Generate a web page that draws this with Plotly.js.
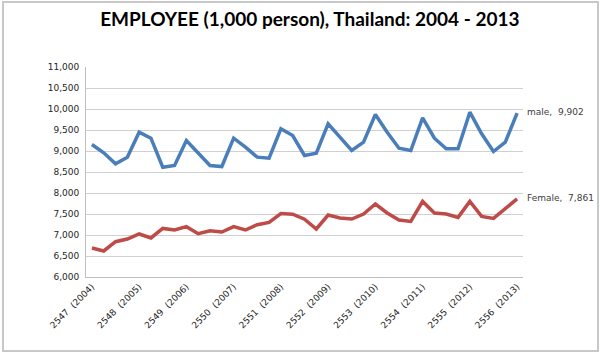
<!DOCTYPE html>
<html>
<head>
<meta charset="utf-8">
<script src="https://cdn.plot.ly/plotly-3.0.1.min.js"></script>
<style>
html,body{margin:0;padding:0;background:#fff;}
#frame{position:absolute;left:2px;top:1px;width:597px;height:351px;border:2px solid #c8c8c8;box-sizing:border-box;}
#chart{position:absolute;left:0;top:0;width:604px;height:357px;}
</style>
</head>
<body>
<div id="frame"></div>
<div id="chart"></div>
<script>
// quarterly points, 2004 Q1 .. 2013 Q1
const tickLabels = ["2547\u00a0 (2004)","2548\u00a0 (2005)","2549\u00a0 (2006)","2550\u00a0 (2007)","2551\u00a0 (2008)",
                    "2552\u00a0 (2009)","2553\u00a0 (2010)","2554\u00a0 (2011)","2555\u00a0 (2012)","2556\u00a0 (2013)"];
const male = [9155,8957,8695,8853,9448,9305,8614,8655,9250,8957,8655,8630,9305,9090,8853,8830,
              9529,9369,8893,8948,9648,9329,9012,9210,9869,9448,9067,9012,9790,9305,9052,9052,
              9924,9410,8988,9210,9902];
const female = [6690,6619,6840,6905,7024,6929,7157,7119,7198,7031,7102,7071,7198,7119,7245,7300,
                7510,7495,7376,7143,7476,7405,7381,7500,7738,7524,7357,7324,7800,7524,7500,7419,
                7800,7443,7395,7633,7861];
const maleName = "male";
const femaleName = "Female";

const idx = male.map((_, i) => i);
const tickVals = tickLabels.map((_, i) => i * 4);

const fmt = v => v.toLocaleString('en-US');

const traces = [
  {x: idx, y: male, type: 'scatter', mode: 'lines', name: maleName,
   line: {color: '#4a7ebb', width: 3.5}, hoverinfo: 'y'},
  {x: idx, y: female, type: 'scatter', mode: 'lines', name: femaleName,
   line: {color: '#be4b48', width: 3.5}, hoverinfo: 'y'}
];

const last = idx.length - 1;
const tf = {family: '"DejaVu Sans", sans-serif', size: 9, color: '#262626'};
const layout = {
  width: 604, height: 357,
  paper_bgcolor: 'rgba(0,0,0,0)', plot_bgcolor: '#fff',
  margin: {l: 86, r: 81, t: 67, b: 80},
  showlegend: false,
  title: {text: '<b>EMPLOYEE (1,000 person), Thailand: 2004 - 2013</b>',
          font: {family: 'Lato, "Liberation Sans", sans-serif', size: 19, color: '#000'},
          x: 0.513, xanchor: 'center', y: 1 - 19/357, yanchor: 'middle', yref: 'container'},
  xaxis: {range: [-0.5, last + 0.5], tickvals: tickVals, ticktext: tickLabels, tickangle: -45,
          showgrid: false, zeroline: false, showline: true, linecolor: '#bfbfbf', linewidth: 1,
          ticks: '', tickfont: tf, fixedrange: true},
  yaxis: {range: [6000, 11000], dtick: 500, tickformat: ',d', showgrid: true,
          gridcolor: '#d0d0d0', gridwidth: 1, zeroline: false, showline: true,
          linecolor: '#bfbfbf', linewidth: 1, ticks: '', ticklen: 0, ticklabelstandoff: 4,
          tickfont: tf, fixedrange: true},
  annotations: [
    {x: last, y: male[last], xref: 'x', yref: 'y', text: maleName + ',\u00a0 ' + fmt(male[last]),
     showarrow: false, xanchor: 'left', xshift: 8, yshift: 1,
     font: {family: '"DejaVu Sans", sans-serif', size: 9, color: '#404040'}},
    {x: last, y: female[last], xref: 'x', yref: 'y', text: femaleName + ',\u00a0 ' + fmt(female[last]),
     showarrow: false, xanchor: 'left', xshift: 8, yshift: 1,
     font: {family: '"DejaVu Sans", sans-serif', size: 9, color: '#404040'}}
  ]
};

Plotly.newPlot('chart', traces, layout, {displayModeBar: false, staticPlot: true});
</script>
</body>
</html>
